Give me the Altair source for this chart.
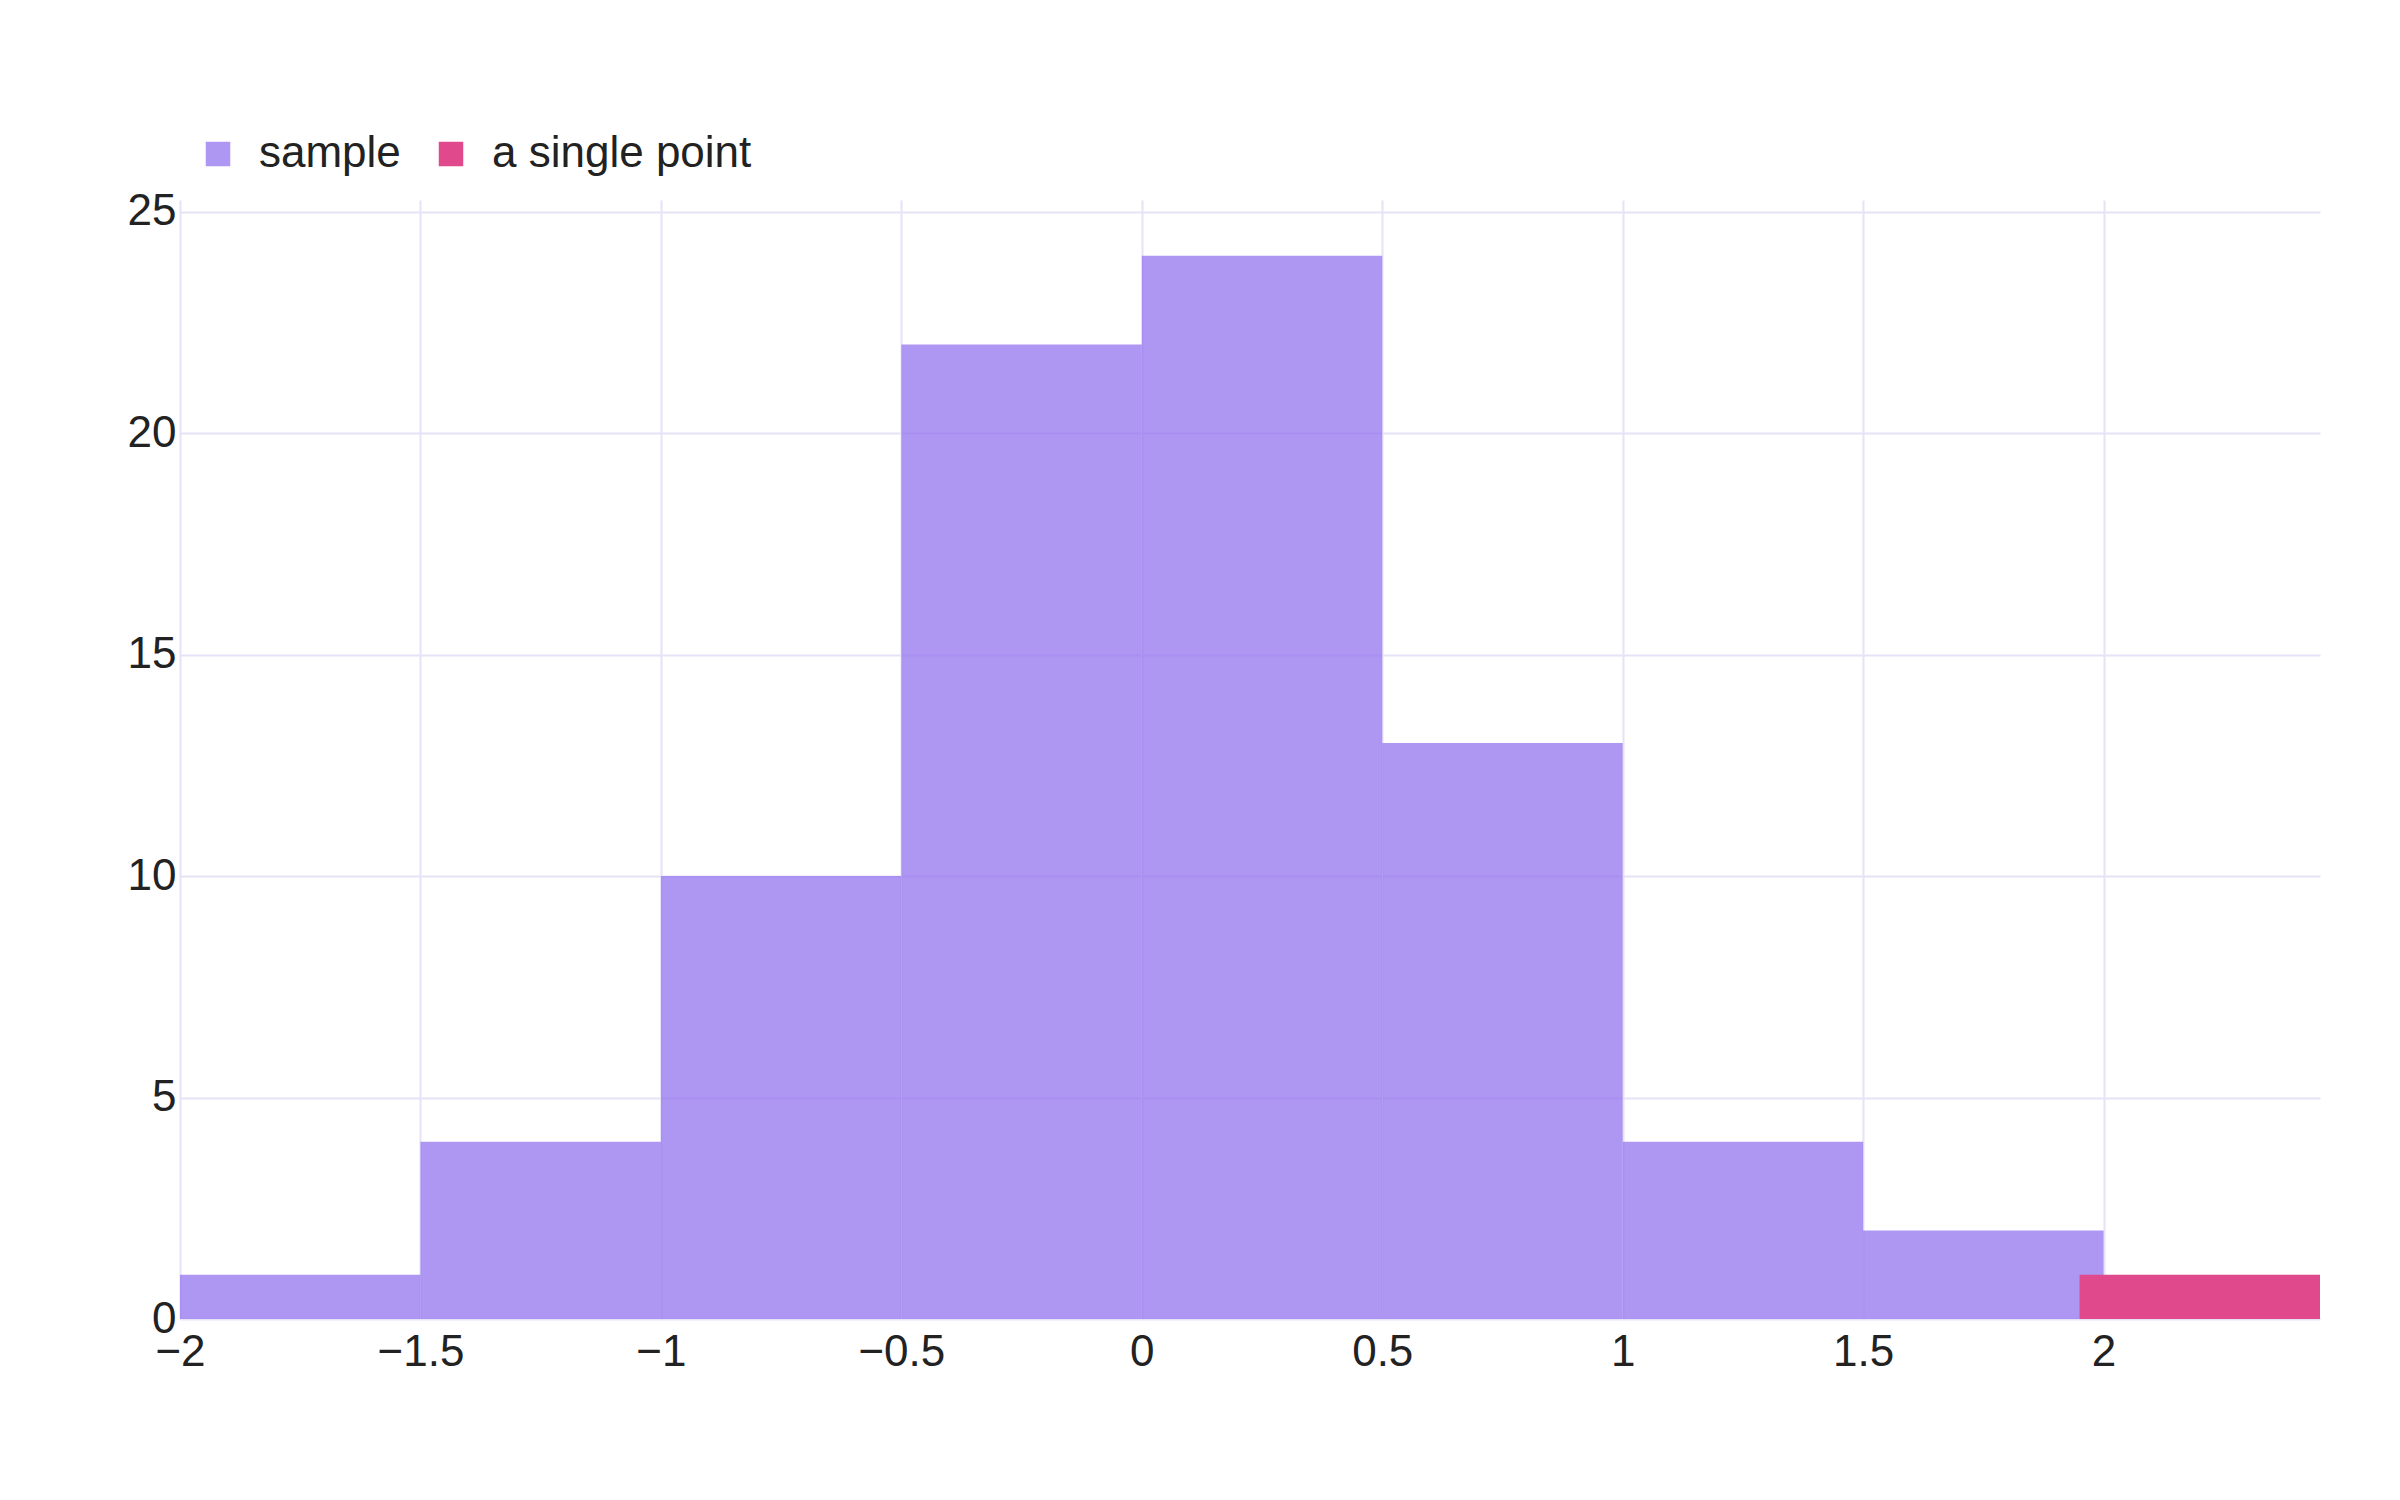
import pandas as pd
import altair as alt

# histogram bins
sample_start = [-2.0, -1.5, -1.0, -0.5, 0.0, 0.5, 1.0, 1.5]
sample_end = [-1.5, -1.0, -0.5, 0.0, 0.5, 1.0, 1.5, 2.0]
sample_count = [1, 4, 10, 22, 24, 13, 4, 2]

point_start = [1.95]
point_end = [2.45]
point_count = [1]

series_names = ['sample', 'a single point']
series_colors = ['#9373EF', '#E04A8C']
series_opacity = [0.75, 1.0]

x_ticks = [-2, -1.5, -1, -0.5, 0, 0.5, 1, 1.5, 2]
y_ticks = [0, 5, 10, 15, 20, 25]

df = pd.concat([
    pd.DataFrame({'start': sample_start, 'end': sample_end,
                  'count': sample_count, 'series': 'sample'}),
    pd.DataFrame({'start': point_start, 'end': point_end,
                  'count': point_count, 'series': 'a single point'}),
], ignore_index=True)

FONT = 'Liberation Sans'

chart = alt.Chart(df).mark_rect().encode(
    x=alt.X('start:Q',
            title=None,
            scale=alt.Scale(domain=[-2, 2.45], nice=False, zero=False),
            axis=alt.Axis(values=x_ticks, format='~g', labelPadding=11,
                          labelFlush=False, labelOverlap=False)),
    x2='end:Q',
    y=alt.Y('count:Q',
            title=None,
            scale=alt.Scale(domain=[0, 25.26], nice=False),
            axis=alt.Axis(values=y_ticks, format='~g', labelPadding=4,
                          labelFlush=False, labelOverlap=False)),
    y2=alt.datum(0),
    opacity=alt.Opacity('series:N',
                        sort=series_names,
                        scale=alt.Scale(domain=series_names, range=series_opacity)),
    color=alt.Color('series:N',
                    title=None,
                    sort=series_names,
                    scale=alt.Scale(domain=series_names, range=series_colors),
                    legend=alt.Legend(
                        orient='none',
                        direction='horizontal',
                        legendX=16,
                        legendY=-68,
                        padding=0,
                        symbolType='square',
                        symbolSize=600,
                        symbolStrokeWidth=0,
                        labelFontSize=44,
                        labelFont=FONT,
                        labelColor='#222222',
                        labelOffset=19,
                        columnPadding=28,
                        labelLimit=600)),
).properties(
    width=2140,
    height=1119,
    autosize=alt.AutoSizeParams(type='none'),
    padding={'left': 172, 'top': 192, 'right': 60, 'bottom': 150},
).configure_axis(
    domain=False,
    ticks=False,
    grid=True,
    gridColor='#E6E3F7',
    gridWidth=2,
    labelFont=FONT,
    labelFontSize=44,
    labelColor='#222222',
).configure_view(
    strokeWidth=0
)

chart.save("out.html", embed_options={"renderer": "svg", "actions": False})
